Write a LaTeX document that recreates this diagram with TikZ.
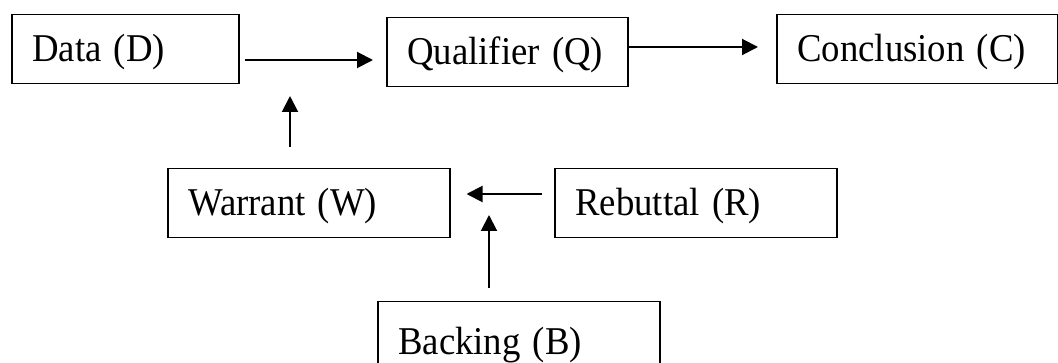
\documentclass[tikz,border=0pt]{standalone}
\usepackage{fontspec}
\setmainfont{Liberation Serif}
\usetikzlibrary{arrows.meta}
\newcommand{\boxtxt}[1]{\scalebox{0.98}[1.05]{#1}}
\tikzset{
  tbox/.style={draw=black, line width=1.5pt, rectangle, anchor=north west,
    inner xsep=20.5pt, inner ysep=0pt, align=left,
    text height=31pt, text depth=6pt, minimum height=69pt,
    font=\fontsize{37.5}{45}\selectfont},
  arr/.style={line width=2pt, -{Triangle[length=16pt,width=16pt]}}
}
\begin{document}
\begin{tikzpicture}[x=1pt,y=-1pt]
\useasboundingbox (0,0) rectangle (1058,363);
\clip (0,0) rectangle (1058,363);
\node[tbox, text width=186pt] (D) at (11,14) {\boxtxt{Data (D)}};
\node[tbox, text width=200pt] (Q) at (386,17) {\boxtxt{Qualifier (Q)}};
\node[tbox, text width=240pt] (C) at (776,14) {\boxtxt{Conclusion (C)}};
\node[tbox, text width=241pt] (W) at (167,168) {\boxtxt{Warrant (W)}};
\node[tbox, text width=241pt] (R) at (554,168) {\boxtxt{Rebuttal (R)}};
\node[tbox, text width=241pt, minimum height=81pt] (B) at (377,301) {\boxtxt{Backing (B)}};
\coordinate (j1) at (290,60);
\coordinate (j2) at (700,47);
\coordinate (j3) at (489,194);
\draw[arr, shorten <=5pt, shorten >=13pt] (D.east |- j1) -- (Q.west |- j1);
\draw[arr, shorten <=21pt, shorten >=36pt] (W.north -| j1) -- (j1);
\draw[arr, shorten >=18pt] (Q.east |- j2) -- (C.west |- j2);
\draw[arr, shorten <=12pt, shorten >=16pt] (R.west |- j3) -- (W.east |- j3);
\draw[arr, shorten <=13pt, shorten >=21pt] (B.north -| j3) -- (j3);
\end{tikzpicture}
\end{document}
